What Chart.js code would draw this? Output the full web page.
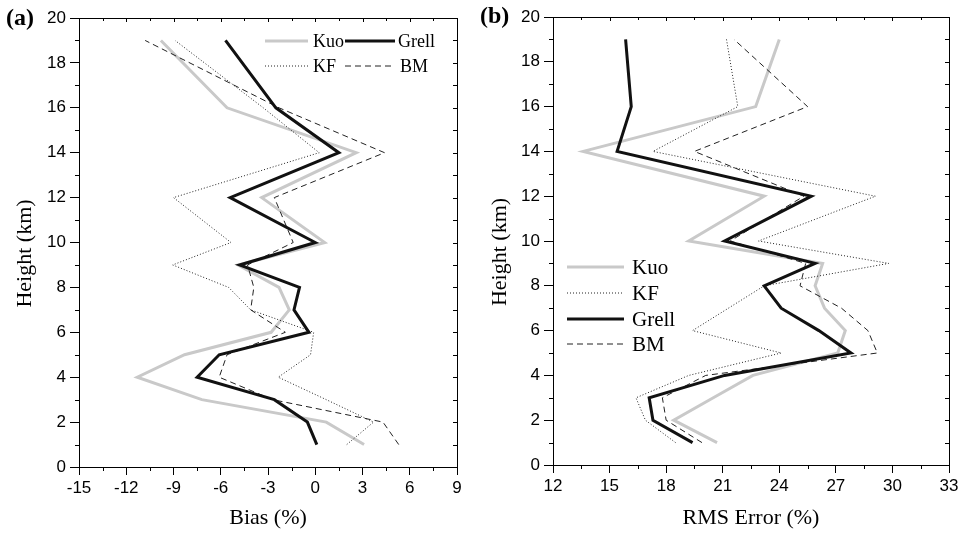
<!DOCTYPE html>
<html>
<head>
<meta charset="utf-8">
<script src="https://cdn.jsdelivr.net/npm/chart.js@4.4.1/dist/chart.umd.min.js"></script>
<style>
  body { margin: 0; background: #fff; }
  #wrap { position: relative; width: 969px; height: 533px; }
  #wrap canvas { position: absolute; top: 0; }
</style>
</head>
<body>
<div id="wrap">
  <canvas id="chartA" width="480" height="533" style="left:0"></canvas>
  <canvas id="chartB" width="489" height="533" style="left:480px"></canvas>
</div>
<script>
// heights (km) at which the profiles are given
const heights = [1, 2, 3, 4, 5, 6, 7, 8, 9, 10, 12, 14, 16, 19];

// (a) bias (%)
const biasKuo   = [3.1, 0.7, -7.2, -11.3, -8.3, -2.8, -1.65, -2.3, -4.9, 0.6, -3.4, 2.6, -5.6, -9.8];
const biasGrell = [0.1, -0.5, -2.6, -7.5, -6.1, -0.4, -1.35, -1.0, -4.8, 0.0, -5.4, 1.5, -2.5, -5.7];
const biasKF    = [2.0, 3.7, 0.7, -2.35, -0.3, -0.1, -4.1, -5.5, -9.05, -5.35, -9.0, 0.25, -3.3, -8.9];
const biasBM    = [5.3, 4.3, -2.7, -6.1, -5.6, -1.9, -4.1, -3.9, -4.3, -1.4, -2.6, 4.4, -2.3, -10.8];

// (b) RMS error (%)
const rmsKuo   = [20.7, 18.4, 20.5, 22.6, 27.1, 27.5, 26.4, 25.9, 26.3, 19.2, 23.2, 13.6, 22.75, 24.0];
const rmsGrell = [19.4, 17.3, 17.1, 21.1, 27.8, 26.1, 24.1, 23.2, 25.9, 21.1, 25.7, 15.4, 16.15, 15.85];
const rmsKF    = [18.5, 16.9, 16.4, 19.2, 24.1, 19.4, 21.3, 23.2, 29.8, 22.9, 29.1, 17.3, 21.8, 21.2];
const rmsBM    = [19.9, 18.0, 17.8, 20.1, 29.2, 28.7, 27.3, 25.1, 25.4, 21.4, 25.3, 19.5, 25.5, 21.6];

const SANS = "'Liberation Sans', Arial, sans-serif";
const SERIF = "'Liberation Serif', 'Times New Roman', serif";

function pts(vals) {
  return vals.map((v, i) => ({x: v, y: heights[i]}));
}

function makeSets(kuo, grell, kf, bm) {
  return [
    {label: 'Kuo', data: pts(kuo), borderColor: '#c9c9c9', borderWidth: 3, order: 4},
    {label: 'Grell', data: pts(grell), borderColor: '#111', borderWidth: 3, order: 1},
    {label: 'KF', data: pts(kf), borderColor: '#222', borderWidth: 1, borderDash: [1, 2], order: 3},
    {label: 'BM', data: pts(bm), borderColor: '#222', borderWidth: 1, borderDash: [6, 4], order: 2}
  ].map(d => Object.assign(d, {showLine: true, pointRadius: 0, fill: false, tension: 0}));
}

// box round the plot, minor ticks, inner ticks on top/right, panel tag and key
const framePlugin = {
  id: 'frame',
  afterDraw(chart, args, opts) {
    const {ctx, chartArea: a, scales: {x, y}} = chart;
    ctx.save();
    ctx.strokeStyle = '#000';
    ctx.lineWidth = 1;
    ctx.strokeRect(a.left + 0.5, a.top + 0.5, a.right - a.left, a.bottom - a.top);

    ctx.beginPath();
    for (let v = x.min; v <= x.max + 1e-6; v += 1.5) {
      const px = Math.round(x.getPixelForValue(v)) + 0.5;
      const major = Math.abs((v - x.min) % 3) < 1e-6;
      if (!major) { ctx.moveTo(px, a.bottom); ctx.lineTo(px, a.bottom + 4); }
      ctx.moveTo(px, a.top); ctx.lineTo(px, a.top + (major ? 4 : 3));
    }
    for (let v = y.min; v <= y.max; v += 1) {
      const py = Math.round(y.getPixelForValue(v)) + 0.5;
      if (v % 2) { ctx.moveTo(a.left - 4, py); ctx.lineTo(a.left, py); }
      ctx.moveTo(a.right, py); ctx.lineTo(a.right - 4, py);
    }
    ctx.stroke();

    ctx.fillStyle = '#000';
    ctx.font = 'bold 24px ' + SERIF;
    ctx.textBaseline = 'middle';
    ctx.textAlign = 'left';
    ctx.fillText(opts.tag, opts.tagX, opts.tagY);

    ctx.font = opts.keySize + 'px ' + SERIF;
    opts.key.forEach(k => {
      const ds = chart.data.datasets.find(d => d.label === k.label);
      ctx.beginPath();
      ctx.strokeStyle = ds.borderColor;
      ctx.lineWidth = ds.borderWidth;
      ctx.setLineDash(ds.borderDash || []);
      ctx.moveTo(k.x1, k.y); ctx.lineTo(k.x2, k.y);
      ctx.stroke();
      ctx.setLineDash([]);
      ctx.fillText(ds.label, k.tx, k.y + 1);
    });
    ctx.restore();
  }
};

function makeChart(id, sets, xr, xTitle, lay, frame) {
  return new Chart(document.getElementById(id), {
    type: 'scatter',
    data: {datasets: sets},
    options: {
      responsive: false,
      animation: false,
      devicePixelRatio: 1,
      layout: {padding: {top: lay.top, right: lay.right, left: 0, bottom: 0}},
      plugins: {legend: {display: false}, tooltip: {enabled: false}, frame: frame},
      scales: {
        x: {
          type: 'linear', min: xr[0], max: xr[1],
          ticks: {stepSize: 3, color: '#000', font: {family: SANS, size: 17}, padding: 3},
          grid: {drawOnChartArea: false, tickLength: 8, color: '#000'},
          border: {color: '#000'},
          title: {display: true, text: xTitle, color: '#000', font: {family: SERIF, size: 22}, padding: {top: 0, bottom: 2}},
          afterFit(s) { s.height = lay.xh; }
        },
        y: {
          type: 'linear', min: 0, max: 20,
          ticks: {stepSize: 2, color: '#000', font: {family: SANS, size: 17}, padding: 4},
          grid: {drawOnChartArea: false, tickLength: 9, color: '#000'},
          border: {color: '#000'},
          // trailing spaces push the visible text a little below the axis middle, as in the original
          title: {display: true, text: 'Height (km)    ', color: '#000', font: {family: SERIF, size: 22}, padding: {top: lay.ytp, bottom: 0}},
          afterFit(s) { s.width = lay.yw; }
        }
      }
    },
    plugins: [framePlugin]
  });
}

makeChart('chartA', makeSets(biasKuo, biasGrell, biasKF, biasBM), [-15, 9], 'Bias (%)',
  {top: 18, right: 23, xh: 66, yw: 79, ytp: 12},
  {tag: '(a)', tagX: 6, tagY: 19, keySize: 18, key: [
    {label: 'Kuo', x1: 265, x2: 308, tx: 313, y: 41},
    {label: 'Grell', x1: 345, x2: 395, tx: 398, y: 41},
    {label: 'KF', x1: 265, x2: 308, tx: 313, y: 66},
    {label: 'BM', x1: 345, x2: 395, tx: 400, y: 66}
  ]});

makeChart('chartB', makeSets(rmsKuo, rmsGrell, rmsKF, rmsBM), [12, 33], 'RMS Error (%)',
  {top: 17, right: 20, xh: 68, yw: 73, ytp: 7},
  {tag: '(b)', tagX: 0, tagY: 17, keySize: 21, key: [
    {label: 'Kuo', x1: 87, x2: 144, tx: 152, y: 267},
    {label: 'KF', x1: 87, x2: 144, tx: 152, y: 293},
    {label: 'Grell', x1: 87, x2: 144, tx: 152, y: 319},
    {label: 'BM', x1: 87, x2: 144, tx: 152, y: 344}
  ]});
</script>
</body>
</html>
